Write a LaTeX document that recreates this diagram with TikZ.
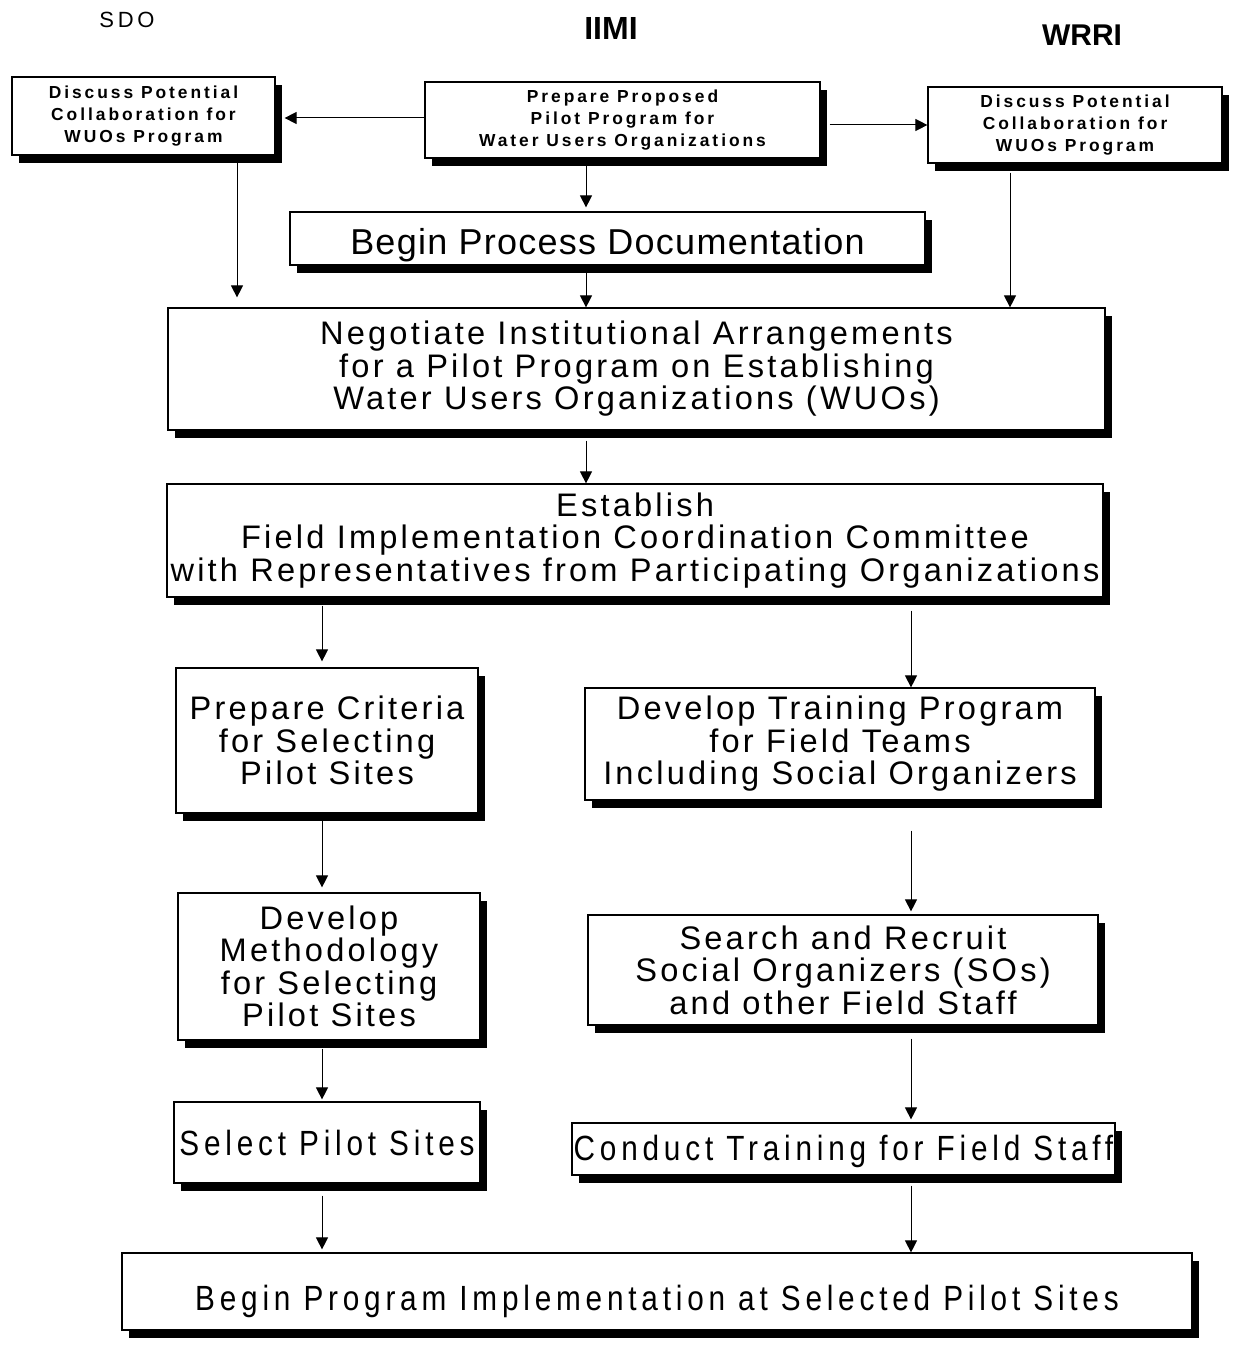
\documentclass[tikz,border=0pt]{standalone}
\usepackage{fontspec}
\setmainfont{Liberation Sans}
\newfontfamily\widefont[LetterSpace=9.8]{Liberation Sans}
\newfontfamily\tagfont[LetterSpace=17]{Liberation Sans}
\newfontfamily\narrowfont[FakeStretch=0.85, LetterSpace=13.7]{Liberation Sans}
\usetikzlibrary{positioning, arrows.meta, shadows}

\begin{document}
\begin{tikzpicture}[
  x=0.5pt, y=-0.5pt,
  stepbox/.style={draw, fill=white, line width=0.6pt, inner sep=0pt, align=center,
    drop shadow={shadow xshift=3.5pt, shadow yshift=-4pt, fill=black, opacity=1}},
  tagbox/.style={stepbox, font={\fontsize{8.7}{11}\tagfont\bfseries}},
  bigbox/.style={stepbox, font={\fontsize{16.3}{16.25}\widefont}},
  thinbox/.style={stepbox, font={\fontsize{17.5}{20}\narrowfont}},
  head/.style={inner sep=0pt},
  link/.style={draw, line width=0.5pt, -{Triangle[width=6pt, length=6pt]}}
]
  \useasboundingbox (0,0) rectangle (1235,1348);

  \node[head, font={\fontsize{11}{13}\tagfont}] (hsdo) at (127,20) {SDO};
  \node[head, font={\fontsize{16}{18}\selectfont\bfseries}] (hiimi) at (611,28) {IIMI};
  \node[head, font={\fontsize{15}{18}\selectfont\bfseries}] (hwrri) at (1082,35) {WRRI};

  \node[tagbox, minimum width=131.5pt, minimum height=39pt] (sdo) at (143.5,116)
    {Discuss Potential\\Collaboration for\\WUOs Program};
  \node[tagbox, minimum width=197.5pt, minimum height=38pt] (prep) at (622.5,120)
    {Prepare Proposed\\Pilot Program for\\Water Users Organizations};
  \node[tagbox, minimum width=147pt, minimum height=38pt] (wrri) at (1075,125)
    {Discuss Potential\\Collaboration for\\WUOs Program};

  \node[stepbox, minimum width=317.5pt, minimum height=26.5pt, text height=20pt, text depth=3.8pt,
    font={\fontsize{18}{20}\widefont\addfontfeature{LetterSpace=3.5}}] (doc) at (607.5,238.5)
    {Begin Process Documentation};

  \node[bigbox, minimum width=468.5pt, minimum height=61pt] (nego) at (636.5,369)
    {Negotiate Institutional Arrangements\\for a Pilot Program on Establishing\\Water Users Organizations (WUOs)};
  \node[bigbox, minimum width=468pt, minimum height=56.5pt] (estab) at (635,540.5)
    {Establish\\Field Implementation Coordination Committee\\with Representatives from Participating Organizations};

  \node[bigbox, minimum width=151pt, minimum height=72.5pt] (crit) at (327,740.5)
    {Prepare Criteria\\for Selecting\\Pilot Sites};
  \node[bigbox, minimum width=255pt, minimum height=56pt] (train) at (840,744)
    {Develop Training Program\\for Field Teams\\Including Social Organizers};
  \node[bigbox, minimum width=151pt, minimum height=73.5pt] (method) at (329,966.5)
    {Develop\\Methodology\\for Selecting\\Pilot Sites};
  \node[bigbox, minimum width=255pt, minimum height=55pt] (recruit) at (843,970)
    {Search and Recruit\\Social Organizers (SOs)\\and other Field Staff};

  \node[thinbox, minimum width=153pt, minimum height=40.5pt] (select) at (327,1142.5)
    {Select Pilot Sites};
  \node[thinbox, minimum width=271.5pt, minimum height=26pt, text height=15.5pt, text depth=3.7pt] (conduct) at (843.5,1149)
    {Conduct Training for Field Staff};
  \node[thinbox, minimum width=535pt, minimum height=38.5pt, text height=22.6pt, text depth=3.7pt] (impl) at (657,1291.5)
    {Begin Program Implementation at Selected Pilot Sites};

  % columns of the vertical connectors
  \coordinate (sdocol) at (237,0);
  \coordinate (midcol) at (586,0);
  \coordinate (wrricol) at (1010,0);
  \coordinate (leftcol) at (322,0);
  \coordinate (rightcol) at (911,0);

  % IIMI to the partner organizations
  \draw[link, shorten >=4.5pt] (prep.west |- 0,118) -- (sdo.east |- 0,118);
  \draw[link, shorten <=4.5pt] (prep.east |- wrri.west) -- (wrri.west);
  \draw[link, shorten <=3.5pt, shorten >=2pt] (prep.south -| midcol) -- (doc.north -| midcol);

  % into the negotiation
  \draw[link, shorten <=2.5pt, shorten >=5pt] (sdo.south -| sdocol) -- (nego.north -| sdocol);
  \draw[link, shorten <=3.5pt] (doc.south -| midcol) -- (nego.north -| midcol);
  \draw[link, shorten <=4.5pt] (wrri.south -| wrricol) -- (nego.north -| wrricol);
  \draw[link, shorten <=5pt] (nego.south -| midcol) -- (estab.north -| midcol);

  % two branches
  \draw[link, shorten <=4pt, shorten >=3pt] (estab.south -| leftcol) -- (crit.north -| leftcol);
  \draw[link, shorten <=6.5pt] (estab.south -| rightcol) -- (train.north -| rightcol);
  \draw[link, shorten <=3.5pt, shorten >=2.5pt] (crit.south -| leftcol) -- (method.north -| leftcol);
  \draw[link, shorten <=15pt, shorten >=1.5pt] (train.south -| rightcol) -- (recruit.north -| rightcol);
  \draw[link, shorten <=4pt, shorten >=1pt] (method.south -| leftcol) -- (select.north -| leftcol);
  \draw[link, shorten <=6.5pt, shorten >=1.5pt] (recruit.south -| rightcol) -- (conduct.north -| rightcol);
  \draw[link, shorten <=6pt, shorten >=1.5pt] (select.south -| leftcol) -- (impl.north -| leftcol);
  \draw[link, shorten <=5pt] (conduct.south -| rightcol) -- (impl.north -| rightcol);
\end{tikzpicture}
\end{document}
